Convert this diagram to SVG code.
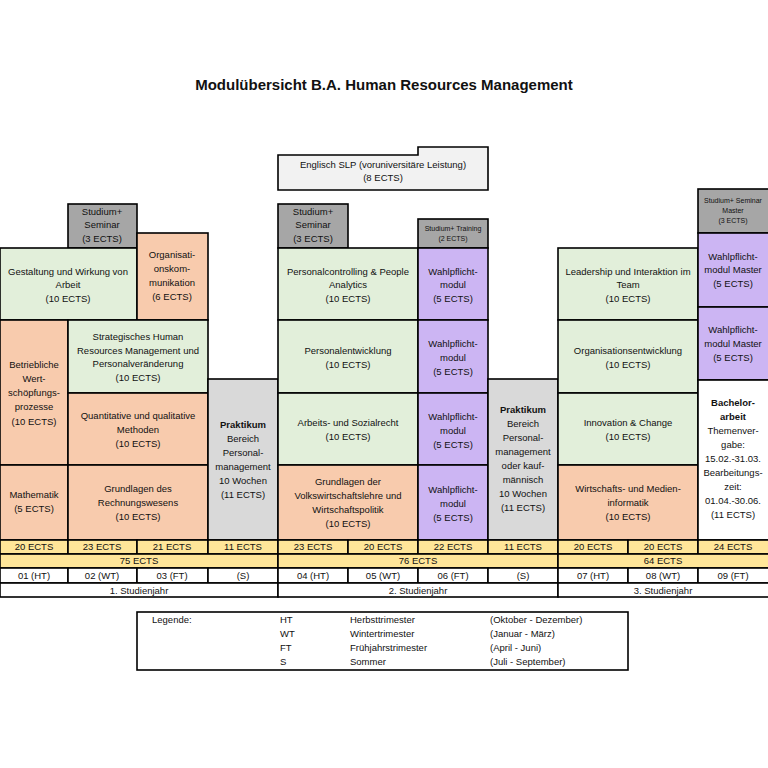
<svg xmlns="http://www.w3.org/2000/svg" width="768" height="768" viewBox="0 0 768 768">
<style>
rect,path{stroke:#000;stroke-width:1.6}
.g{fill:#e2efda}.o{fill:#f8cbad}.p{fill:#ccb5f3}.d{fill:#a6a6a6}.l{fill:#d9d9d9}.y{fill:#ffe699}.w{fill:#fff}.e{fill:#f2f2f2}
text{font-family:"Liberation Sans",Arial,sans-serif;font-size:9.5px;text-anchor:middle;fill:#111}
.s{font-size:7px}.b{font-weight:bold}
.lg text{text-anchor:start}
</style>
<rect x="0" y="0" width="768" height="768" style="fill:#fff;stroke:none"/>
<text x="384" y="90" class="b" style="font-size:15px">Modulübersicht B.A. Human Resources Management</text>
<g id="englisch"><path class="e" d="M278,155 H418 V147 H488 V190 H278 Z"/><text x="383" y="168">Englisch SLP (voruniversitäre Leistung)</text><text x="383" y="181">(8 ECTS)</text></g>
<g id="y1">
<g id="s1"><rect class="d" x="68" y="204" width="69" height="44"/><text x="102" y="215">Studium+</text><text x="102" y="228">Seminar</text><text x="102" y="242">(3 ECTS)</text></g>
<g id="gest"><rect class="g" x="0" y="248" width="137" height="72"/><text x="68" y="275">Gestaltung und Wirkung von</text><text x="68" y="288">Arbeit</text><text x="68" y="302">(10 ECTS)</text></g>
<g id="orgk"><rect class="o" x="137" y="233" width="71" height="87"/><text x="172" y="258">Organisati-</text><text x="172" y="272">onskom-</text><text x="172" y="286">munikation</text><text x="172" y="300">(6 ECTS)</text></g>
<g id="betr"><rect class="o" x="0" y="320" width="68" height="145"/><text x="34" y="368">Betriebliche</text><text x="34" y="382">Wert-</text><text x="34" y="396">schöpfungs-</text><text x="34" y="410">prozesse</text><text x="34" y="425">(10 ECTS)</text></g>
<g id="strat"><rect class="g" x="68" y="320" width="140" height="73"/><text x="138" y="340">Strategisches Human</text><text x="138" y="354">Resources Management und</text><text x="138" y="367">Personalveränderung</text><text x="138" y="381">(10 ECTS)</text></g>
<g id="quant"><rect class="o" x="68" y="393" width="140" height="72"/><text x="138" y="419">Quantitative und qualitative</text><text x="138" y="433">Methoden</text><text x="138" y="447">(10 ECTS)</text></g>
<g id="math"><rect class="o" x="0" y="465" width="68" height="75"/><text x="34" y="498">Mathematik</text><text x="34" y="512">(5 ECTS)</text></g>
<g id="grw"><rect class="o" x="68" y="465" width="140" height="75"/><text x="138" y="492">Grundlagen des</text><text x="138" y="506">Rechnungswesens</text><text x="138" y="520">(10 ECTS)</text></g>
<g id="prak1"><rect class="l" x="208" y="379" width="70" height="161"/><text x="243" y="428" class="b">Praktikum</text><text x="243" y="442">Bereich</text><text x="243" y="456">Personal-</text><text x="243" y="470">management</text><text x="243" y="484">10 Wochen</text><text x="243" y="498">(11 ECTS)</text></g>
</g>
<g id="y2">
<g id="s2"><rect class="d" x="278" y="204" width="70" height="44"/><text x="313" y="215">Studium+</text><text x="313" y="228">Seminar</text><text x="313" y="242">(3 ECTS)</text></g>
<g id="tr"><rect class="d" x="418" y="219" width="70" height="29"/><text x="453" y="231" class="s">Studium+ Training</text><text x="453" y="241" class="s">(2 ECTS)</text></g>
<g id="pc"><rect class="g" x="278" y="248" width="140" height="72"/><text x="348" y="275">Personalcontrolling &amp; People</text><text x="348" y="288">Analytics</text><text x="348" y="302">(10 ECTS)</text></g>
<g id="pe"><rect class="g" x="278" y="320" width="140" height="73"/><text x="348" y="354">Personalentwicklung</text><text x="348" y="368">(10 ECTS)</text></g>
<g id="ar"><rect class="g" x="278" y="393" width="140" height="72"/><text x="348" y="426">Arbeits- und Sozialrecht</text><text x="348" y="440">(10 ECTS)</text></g>
<g id="vwl"><rect class="o" x="278" y="465" width="140" height="75"/><text x="348" y="485">Grundlagen der</text><text x="348" y="499">Volkswirtschaftslehre und</text><text x="348" y="513">Wirtschaftspolitik</text><text x="348" y="527">(10 ECTS)</text></g>
<g id="wp1"><rect class="p" x="418" y="248" width="70" height="72"/><text x="453" y="275">Wahlpflicht-</text><text x="453" y="288">modul</text><text x="453" y="302">(5 ECTS)</text></g>
<g id="wp2"><rect class="p" x="418" y="320" width="70" height="73"/><text x="453" y="347">Wahlpflicht-</text><text x="453" y="361">modul</text><text x="453" y="375">(5 ECTS)</text></g>
<g id="wp3"><rect class="p" x="418" y="393" width="70" height="72"/><text x="453" y="420">Wahlpflicht-</text><text x="453" y="434">modul</text><text x="453" y="448">(5 ECTS)</text></g>
<g id="wp4"><rect class="p" x="418" y="465" width="70" height="75"/><text x="453" y="493">Wahlpflicht-</text><text x="453" y="507">modul</text><text x="453" y="521">(5 ECTS)</text></g>
<g id="prak2"><rect class="l" x="488" y="379" width="70" height="161"/><text x="523" y="413" class="b">Praktikum</text><text x="523" y="427">Bereich</text><text x="523" y="441">Personal-</text><text x="523" y="455">management</text><text x="523" y="469">oder kauf-</text><text x="523" y="483">männisch</text><text x="523" y="497">10 Wochen</text><text x="523" y="511">(11 ECTS)</text></g>
</g>
<g id="y3">
<g id="lead"><rect class="g" x="558" y="248" width="140" height="72"/><text x="628" y="275">Leadership und Interaktion im</text><text x="628" y="288">Team</text><text x="628" y="302">(10 ECTS)</text></g>
<g id="oe"><rect class="g" x="558" y="320" width="140" height="73"/><text x="628" y="354">Organisationsentwicklung</text><text x="628" y="368">(10 ECTS)</text></g>
<g id="ic"><rect class="g" x="558" y="393" width="140" height="72"/><text x="628" y="426">Innovation &amp; Change</text><text x="628" y="440">(10 ECTS)</text></g>
<g id="wm"><rect class="o" x="558" y="465" width="140" height="75"/><text x="628" y="492">Wirtschafts- und Medien-</text><text x="628" y="506">informatik</text><text x="628" y="520">(10 ECTS)</text></g>
<g id="sm"><rect class="d" x="698" y="189" width="72" height="44"/><text x="733" y="203" class="s">Studium+ Seminar</text><text x="733" y="213" class="s">Master</text><text x="733" y="223" class="s">(3 ECTS)</text></g>
<g id="wpm1"><rect class="p" x="698" y="233" width="72" height="74"/><text x="733" y="260">Wahlpflicht-</text><text x="733" y="273">modul  Master</text><text x="733" y="287">(5 ECTS)</text></g>
<g id="wpm2"><rect class="p" x="698" y="307" width="72" height="73"/><text x="733" y="333">Wahlpflicht-</text><text x="733" y="347">modul  Master</text><text x="733" y="361">(5 ECTS)</text></g>
<g id="ba"><rect class="w" x="698" y="380" width="72" height="160"/><text x="733" y="406" class="b">Bachelor-</text><text x="733" y="420" class="b">arbeit</text><text x="733" y="434">Themenver-</text><text x="733" y="448">gabe:</text><text x="733" y="462">15.02.-31.03.</text><text x="733" y="476">Bearbeitungs-</text><text x="733" y="490">zeit:</text><text x="733" y="504">01.04.-30.06.</text><text x="733" y="518">(11 ECTS)</text></g>
</g>
<g id="rows">
<rect class="y" x="0" y="540" width="68" height="14"/><text x="34" y="550">20 ECTS</text>
<rect class="y" x="68" y="540" width="69" height="14"/><text x="102" y="550">23 ECTS</text>
<rect class="y" x="137" y="540" width="71" height="14"/><text x="172" y="550">21 ECTS</text>
<rect class="y" x="208" y="540" width="70" height="14"/><text x="243" y="550">11 ECTS</text>
<rect class="y" x="278" y="540" width="70" height="14"/><text x="313" y="550">23 ECTS</text>
<rect class="y" x="348" y="540" width="70" height="14"/><text x="383" y="550">20 ECTS</text>
<rect class="y" x="418" y="540" width="70" height="14"/><text x="453" y="550">22 ECTS</text>
<rect class="y" x="488" y="540" width="70" height="14"/><text x="523" y="550">11 ECTS</text>
<rect class="y" x="558" y="540" width="70" height="14"/><text x="593" y="550">20 ECTS</text>
<rect class="y" x="628" y="540" width="70" height="14"/><text x="663" y="550">20 ECTS</text>
<rect class="y" x="698" y="540" width="72" height="14"/><text x="733" y="550">24 ECTS</text>
<rect class="y" x="0" y="554" width="278" height="14"/><text x="139" y="564">75 ECTS</text>
<rect class="y" x="278" y="554" width="280" height="14"/><text x="418" y="564">76 ECTS</text>
<rect class="y" x="558" y="554" width="212" height="14"/><text x="663" y="564">64 ECTS</text>
<rect class="w" x="0" y="568" width="68" height="15"/><text x="34" y="579">01 (HT)</text>
<rect class="w" x="68" y="568" width="69" height="15"/><text x="102" y="579">02 (WT)</text>
<rect class="w" x="137" y="568" width="71" height="15"/><text x="172" y="579">03 (FT)</text>
<rect class="w" x="208" y="568" width="70" height="15"/><text x="243" y="579">(S)</text>
<rect class="w" x="278" y="568" width="70" height="15"/><text x="313" y="579">04 (HT)</text>
<rect class="w" x="348" y="568" width="70" height="15"/><text x="383" y="579">05 (WT)</text>
<rect class="w" x="418" y="568" width="70" height="15"/><text x="453" y="579">06 (FT)</text>
<rect class="w" x="488" y="568" width="70" height="15"/><text x="523" y="579">(S)</text>
<rect class="w" x="558" y="568" width="70" height="15"/><text x="593" y="579">07 (HT)</text>
<rect class="w" x="628" y="568" width="70" height="15"/><text x="663" y="579">08 (WT)</text>
<rect class="w" x="698" y="568" width="72" height="15"/><text x="733" y="579">09 (FT)</text>
<rect class="w" x="0" y="583" width="278" height="14"/><text x="139" y="594">1. Studienjahr</text>
<rect class="w" x="278" y="583" width="280" height="14"/><text x="418" y="594">2. Studienjahr</text>
<rect class="w" x="558" y="583" width="212" height="14"/><text x="663" y="594">3. Studienjahr</text>
</g>
<g id="legend" class="lg">
<rect class="w" x="137" y="612" width="491" height="58"/>
<text x="152" y="623">Legende:</text>
<text x="280" y="623">HT</text><text x="350" y="623">Herbsttrimester</text><text x="490" y="623">(Oktober - Dezember)</text>
<text x="280" y="637">WT</text><text x="350" y="637">Wintertrimester</text><text x="490" y="637">(Januar - März)</text>
<text x="280" y="651">FT</text><text x="350" y="651">Frühjahrstrimester</text><text x="490" y="651">(April - Juni)</text>
<text x="280" y="665">S</text><text x="350" y="665">Sommer</text><text x="490" y="665">(Juli - September)</text>
</g>
</svg>
